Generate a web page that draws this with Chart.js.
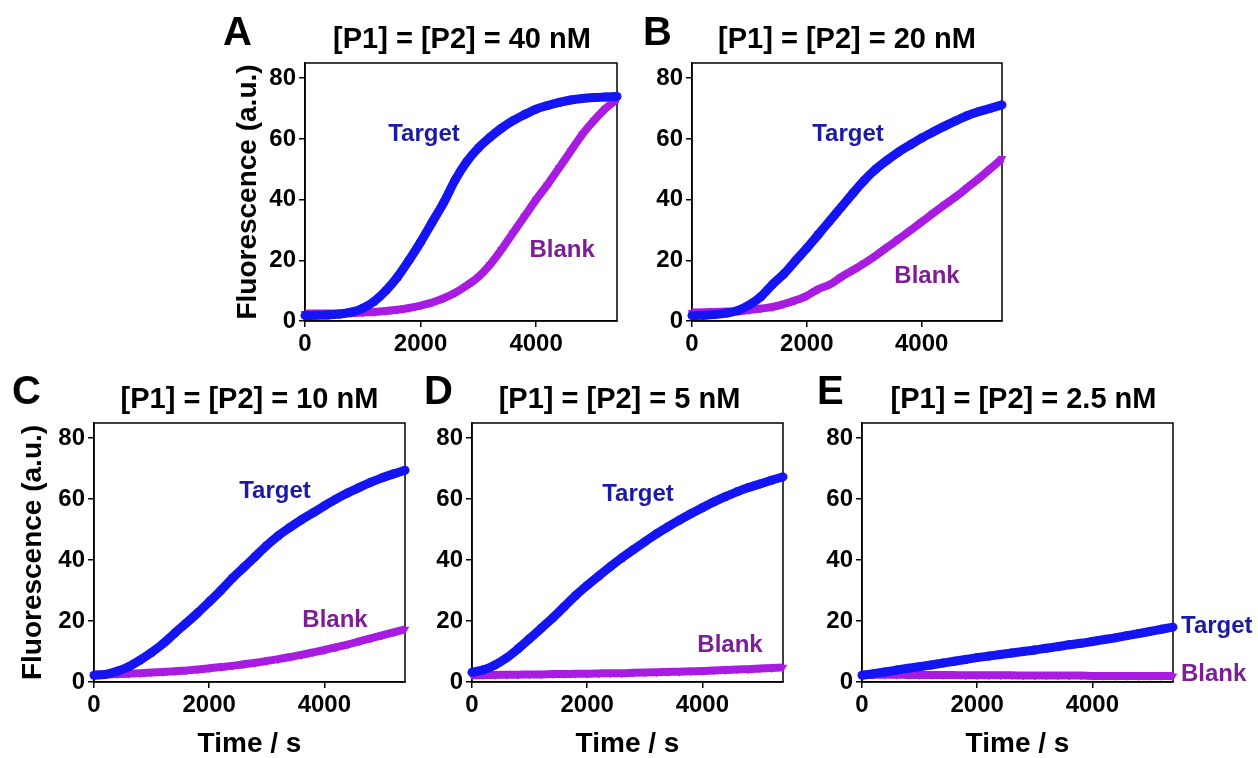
<!DOCTYPE html>
<html>
<head>
<meta charset="utf-8">
<script src="https://cdn.jsdelivr.net/npm/chart.js@4.4.1/dist/chart.umd.min.js"></script>
<style>
  html, body { margin:0; padding:0; background:#fff; overflow:hidden; }
  body { width:1258px; height:758px; position:relative; }
  canvas { position:absolute; }
</style>
</head>
<body>
<canvas id="pA" width="430" height="365" style="left:215px;top:0px"></canvas>
<canvas id="pB" width="400" height="365" style="left:635px;top:0px"></canvas>
<canvas id="pC" width="430" height="393" style="left:0px;top:365px"></canvas>
<canvas id="pD" width="400" height="393" style="left:420px;top:365px"></canvas>
<canvas id="pE" width="446" height="393" style="left:812px;top:365px"></canvas>
<script>
// time points (s)
var times = [0,200,400,600,800,1000,1200,1400,1600,1800,2000,2200,2400,2600,2800,3000,3200,3400,3600,3800,4000,4200,4400,4600,4800,5000,5200,5400];
var yTicks = [0,20,40,60,80];
var xTicks = [0,2000,4000];

// fluorescence, [P1] = [P2] = 40 nM
var targetA = [1.8,1.9,2.0,2.3,2.9,4.2,6.5,10,14.5,20,26,32.5,39,46.5,52.5,57,60.5,63.5,66,68,69.8,71,72,72.8,73.3,73.6,73.8,74];
var blankA  = [2.5,2.5,2.5,2.5,2.6,2.8,3.0,3.3,3.7,4.3,5.1,6.1,7.5,9.3,11.7,14.5,18.5,23.5,29,34.5,40,45,50.5,56,61.5,66,70,73];
// 20 nM
var targetB = [1.8,1.9,2.1,2.6,3.5,5.3,8,12,15.5,19.8,24,28.5,33,37.5,42,46.3,50,53,55.7,58,60.3,62.3,64.2,66,67.7,69,70.1,71.2];
var blankB  = [2.8,2.9,3.0,3.1,3.2,3.6,4.1,4.6,5.6,6.8,8.3,10.5,12,14.5,16.7,19,21.5,24.3,27,29.8,32.6,35.5,38.3,41,44,47,50.2,53.5];
// 10 nM
var targetC = [2.2,2.5,3.5,5,7.2,9.7,12.6,16,19.3,22.7,26.3,30,34,37.6,41.2,44.8,48,50.7,53.2,55.5,57.8,60,62,63.8,65.5,67,68.3,69.5];
var blankC  = [2.5,2.5,2.6,2.7,2.9,3.1,3.3,3.5,3.8,4.1,4.5,4.9,5.3,5.8,6.3,6.9,7.5,8.2,8.9,9.7,10.5,11.4,12.3,13.3,14.3,15.3,16.3,17.3];
// 5 nM
var targetD = [3.2,4.0,5.6,7.9,10.9,14.2,17.6,21,24.7,28.4,31.7,34.8,37.8,40.7,43.4,46,48.6,50.9,53.1,55.2,57.2,59.1,60.8,62.4,63.8,65,66.2,67.3];
var blankD  = [2.2,2.3,2.3,2.4,2.4,2.5,2.5,2.6,2.6,2.7,2.7,2.8,2.9,2.9,3.0,3.1,3.2,3.3,3.4,3.5,3.6,3.8,3.9,4.1,4.2,4.4,4.6,4.8];
// 2.5 nM
var targetE = [2.2,2.7,3.3,3.9,4.5,5.0,5.6,6.2,6.8,7.4,8.0,8.5,9.0,9.5,10.0,10.5,11.1,11.6,12.2,12.7,13.3,13.9,14.5,15.2,15.9,16.6,17.3,18.0];
var blankE  = [2.4,2.4,2.4,2.4,2.3,2.3,2.3,2.3,2.3,2.2,2.2,2.2,2.2,2.2,2.1,2.1,2.1,2.1,2.1,2.1,2.0,2.0,2.0,2.0,2.0,2.0,2.0,2.0];

var FONT = '"Liberation Sans", Arial, sans-serif';
var blue = '#1414f5';
var purple = '#a81ce2';
var blueText = '#1a1aa6';
var purpleText = '#7c1e96';

Chart.defaults.color = '#000';
Chart.defaults.font.family = FONT;

// box, panel letter, title and curve labels
var panelDecor = {
  id: 'panelDecor',
  beforeDatasetsDraw: function(chart) {
    var a = chart.chartArea, ctx = chart.ctx;
    ctx.save();
    ctx.strokeStyle = '#000';
    ctx.lineWidth = 1.5;
    ctx.strokeRect(a.left, a.top, a.right - a.left, a.bottom - a.top);
    ctx.restore();
  },
  afterDraw: function(chart, args, o) {
    var ctx = chart.ctx, a = chart.chartArea;
    var xs = chart.scales.x, ys = chart.scales.y;
    ctx.save();
    ctx.fillStyle = '#000';
    ctx.textAlign = 'left';
    ctx.textBaseline = 'alphabetic';
    ctx.font = 'bold 40px ' + FONT;
    ctx.fillText(o.letter, o.letterX, o.letterY);

    ctx.textAlign = 'center';
    ctx.textBaseline = 'middle';
    ctx.font = 'bold 29px ' + FONT;
    ctx.fillText(o.title, (a.left + a.right) / 2 + o.titleShift, a.top - 23);

    ctx.font = 'bold 24px ' + FONT;
    o.labels.forEach(function(l) {
      ctx.fillStyle = l.color;
      ctx.textAlign = l.align || 'center';
      ctx.fillText(l.text, xs.getPixelForValue(l.x) + (l.dx || 0), ys.getPixelForValue(l.y));
    });
    ctx.restore();
  }
};

function toPoints(vals) {
  return times.map(function(t, i) { return {x: t, y: vals[i]}; });
}

function createPanel(id, target, blank, p) {
  var ctx = document.getElementById(id).getContext('2d');
  new Chart(ctx, {
    type: 'line',
    data: {
      datasets: [{
        label: 'Target',
        data: toPoints(target),
        borderColor: blue,
        backgroundColor: blue,
        borderWidth: 9,
        pointRadius: 4.5,
        pointBorderWidth: 0,
        pointStyle: 'circle',
        cubicInterpolationMode: 'monotone',
        clip: false
      }, {
        label: 'Blank',
        data: toPoints(blank),
        borderColor: purple,
        backgroundColor: purple,
        borderWidth: 8,
        pointRadius: 5,
        pointBorderWidth: 0,
        pointStyle: 'triangle',
        rotation: 180,
        cubicInterpolationMode: 'monotone',
        clip: false
      }]
    },
    options: {
      responsive: false,
      animation: false,
      events: [],
      layout: { padding: { top: p.padTop, right: p.padRight, left: 0, bottom: 0 } },
      plugins: {
        legend: { display: false },
        tooltip: { enabled: false },
        panelDecor: p.decor
      },
      scales: {
        x: {
          type: 'linear',
          min: 0,
          max: 5400,
          afterBuildTicks: function(s) { s.ticks = xTicks.map(function(v) { return {value: v}; }); },
          afterFit: function(s) { s.height = p.xAxisH; },
          grid: { drawOnChartArea: false, drawTicks: true, tickLength: 6, color: '#000', lineWidth: 1.5 },
          border: { display: true, color: '#000', width: 1.5 },
          ticks: { font: { size: 24, weight: 'bold' }, padding: 3, maxRotation: 0, callback: function(v) { return String(v); } },
          title: { display: p.xTitle, text: 'Time / s', font: { size: 28, weight: 'bold', lineHeight: 1 }, padding: { top: 0, bottom: 0 } }
        },
        y: {
          min: 0,
          max: 85,
          afterBuildTicks: function(s) { s.ticks = yTicks.map(function(v) { return {value: v}; }); },
          afterFit: function(s) { s.width = p.yAxisW; },
          grid: { drawOnChartArea: false, drawTicks: true, tickLength: 6, color: '#000', lineWidth: 1.5 },
          border: { display: true, color: '#000', width: 1.5 },
          ticks: { font: { size: 24, weight: 'bold' }, padding: 3 },
          title: { display: p.yTitle, text: 'Fluorescence (a.u.)', font: { size: 28, weight: 'bold', lineHeight: 1 }, padding: { top: 19, bottom: 0 } }
        }
      }
    },
    plugins: [panelDecor]
  });
}

createPanel('pA', targetA, blankA, {
  padTop: 63, padRight: 28, yAxisW: 90, xAxisH: 44, yTitle: true, xTitle: false,
  decor: { letter: 'A', letterX: 8, letterY: 45, title: '[P1] = [P2] = 40 nM', titleShift: 1,
    labels: [{text: 'Target', x: 2060, y: 61.6, color: blueText}, {text: 'Blank', x: 4450, y: 23.4, color: purpleText}] }
});
createPanel('pB', targetB, blankB, {
  padTop: 63, padRight: 33, yAxisW: 57, xAxisH: 44, yTitle: false, xTitle: false,
  decor: { letter: 'B', letterX: 8, letterY: 45, title: '[P1] = [P2] = 20 nM', titleShift: 0,
    labels: [{text: 'Target', x: 2717, y: 61.6, color: blueText}, {text: 'Blank', x: 4094, y: 14.8, color: purpleText}] }
});
createPanel('pC', targetC, blankC, {
  padTop: 58, padRight: 25, yAxisW: 94, xAxisH: 76, yTitle: true, xTitle: true,
  decor: { letter: 'C', letterX: 12, letterY: 39, title: '[P1] = [P2] = 10 nM', titleShift: 0,
    labels: [{text: 'Target', x: 3143, y: 62.7, color: blueText}, {text: 'Blank', x: 4185, y: 20.3, color: purpleText}] }
});
createPanel('pD', targetD, blankD, {
  padTop: 58, padRight: 37, yAxisW: 52, xAxisH: 76, yTitle: false, xTitle: true,
  decor: { letter: 'D', letterX: 4, letterY: 39, title: '[P1] = [P2] = 5 nM', titleShift: -8,
    labels: [{text: 'Target', x: 2882, y: 61.7, color: blueText}, {text: 'Blank', x: 4480, y: 12.1, color: purpleText}] }
});
createPanel('pE', targetE, blankE, {
  padTop: 58, padRight: 85, yAxisW: 50, xAxisH: 76, yTitle: false, xTitle: true,
  decor: { letter: 'E', letterX: 5, letterY: 39, title: '[P1] = [P2] = 2.5 nM', titleShift: 6,
    labels: [{text: 'Target', x: 5400, dx: 8, y: 18.4, color: blueText, align: 'left'}, {text: 'Blank', x: 5400, dx: 8, y: 2.6, color: purpleText, align: 'left'}] }
});
</script>
</body>
</html>
